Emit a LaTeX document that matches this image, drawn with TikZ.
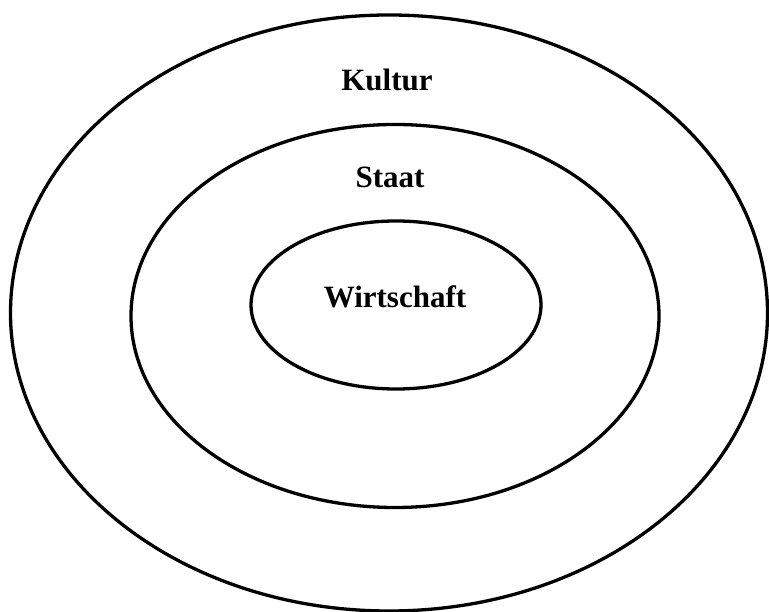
\documentclass[tikz,border=0pt]{standalone}
\usepackage{fontspec}
\setmainfont{Liberation Serif}
\usetikzlibrary{shapes.geometric}

\begin{document}
\begin{tikzpicture}[x=1pt, y=-1pt]
            \useasboundingbox (0,0) rectangle (769,612);
            % Draw rings
            \node[ellipse, draw, line width=3.3pt, minimum width=757pt, minimum height=596pt, inner sep=0pt] (kultur) at (389,313) {};
            \node[ellipse, draw, line width=3.3pt, minimum width=528pt, minimum height=383pt, inner sep=0pt] (staat) at (395,316) {};
            \node[ellipse, draw, line width=3.3pt, minimum width=290pt, minimum height=168pt, inner sep=0pt] (wirtschaft) at (396,305) {};
            
            % Draw labels
            \node[font=\bfseries\fontsize{31}{36}\selectfont] (kulturlabel) at (387,80) {Kultur};
            \node[font=\bfseries\fontsize{31}{36}\selectfont] (staatlabel) at (390,177) {Staat};
            \node[font=\bfseries\fontsize{31}{36}\selectfont] (wirtschaftlabel) at (395,297) {Wirtschaft};
        \end{tikzpicture}
\end{document}
